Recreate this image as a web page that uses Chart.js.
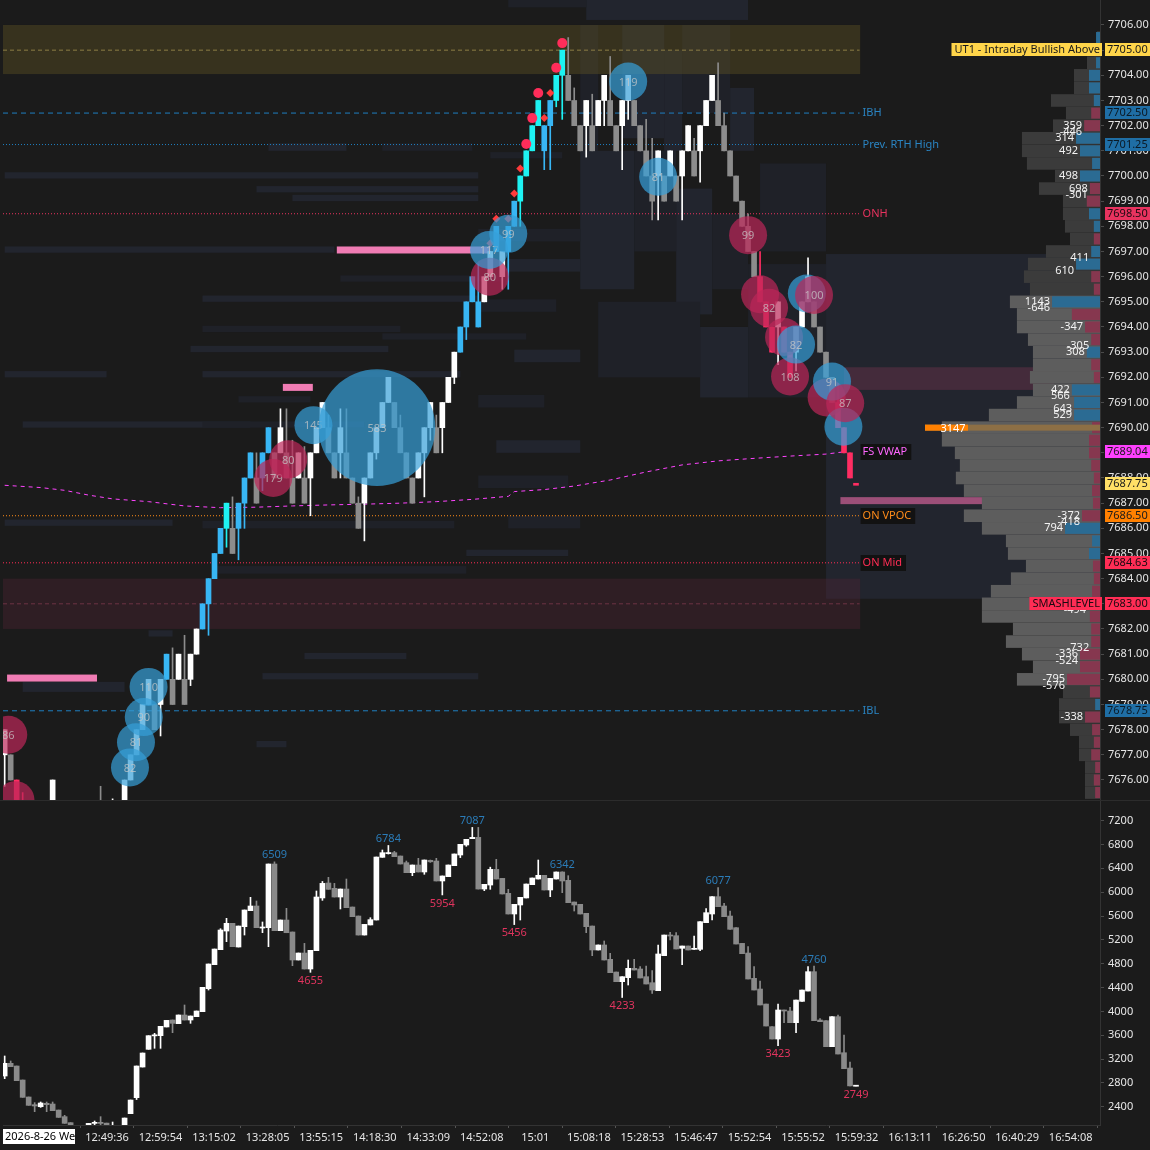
<!DOCTYPE html>
<html>
<head>
<meta charset="utf-8">
<title>ES range bars with cumulative delta</title>
<script src="https://cdn.jsdelivr.net/npm/chart.js"></script>
<style>
  html, body { margin: 0; padding: 0; background: #1b1b1b; }
  #wrap { position: relative; width: 1150px; height: 1150px; overflow: hidden; background: #1b1b1b; }
  #wrap canvas { position: absolute; left: 0; }
  #priceChart { top: 0; }
  #deltaChart { top: 800px; }
</style>
</head>
<body>
<div id="wrap">
  <canvas id="priceChart" width="1150" height="800"></canvas>
  <canvas id="deltaChart" width="1150" height="350"></canvas>
</div>
<script>
// ---- price bars (range bars, index = bar number) ----
const priceOpen = [
  7677, 7677, 7676, 7675, 7674, 7673, 7674, 7675, 7675, 7675,
  7674, 7673, 7672, 7673, 7674, 7674, 7675, 7674, 7673, 7674,
  7675, 7676, 7677, 7678, 7679, 7679, 7679, 7680, 7680, 7680,
  7680, 7680, 7681, 7682, 7683, 7684, 7685, 7686, 7686, 7686,
  7687, 7688, 7688, 7688, 7689, 7689, 7689, 7689, 7688, 7688,
  7688, 7688, 7689, 7690, 7690, 7689, 7689, 7689, 7688, 7687,
  7687, 7688, 7689, 7690, 7691, 7691, 7690, 7689, 7688, 7688,
  7689, 7690, 7690, 7690, 7691, 7692, 7693, 7694, 7695, 7695,
  7695, 7696, 7697, 7697, 7697, 7698, 7699, 7700, 7701, 7702,
  7702, 7702, 7703, 7704, 7704, 7703, 7702, 7702, 7702, 7702,
  7703, 7703, 7702, 7702, 7703, 7703, 7702, 7701, 7700, 7700,
  7700, 7700, 7700, 7700, 7701, 7701, 7701, 7702, 7703, 7703,
  7702, 7701, 7700, 7699, 7698, 7697, 7696, 7695, 7694, 7694,
  7694, 7693, 7693, 7694, 7695, 7695, 7694, 7693, 7692, 7691,
  7690, 7689, 7687.75
];
const priceClose = [
  7678, 7676, 7675, 7674, 7673, 7674, 7675, 7674, 7676, 7674,
  7673, 7672, 7673, 7674, 7673, 7675, 7674, 7673, 7674, 7675,
  7676, 7677, 7678, 7679, 7680, 7678, 7680, 7681, 7679, 7681,
  7679, 7681, 7682, 7683, 7684, 7685, 7686, 7687, 7685, 7687,
  7688, 7689, 7687, 7689, 7690, 7688, 7690, 7688, 7687, 7689,
  7687, 7689, 7690, 7691, 7689, 7688, 7690, 7688, 7687, 7686,
  7688, 7689, 7690, 7691, 7692, 7690, 7689, 7688, 7687, 7689,
  7690, 7691, 7689, 7691, 7692, 7693, 7694, 7695, 7696, 7694,
  7696, 7697, 7698, 7696, 7698, 7699, 7700, 7701, 7702, 7703,
  7701, 7703, 7704, 7705, 7703, 7702, 7701, 7703, 7701, 7703,
  7704, 7702, 7701, 7703, 7704, 7702, 7701, 7700, 7699, 7701,
  7699, 7701, 7699, 7701, 7702, 7700, 7702, 7703, 7704, 7702,
  7701, 7700, 7699, 7698, 7697, 7696, 7695, 7694, 7693, 7695,
  7693, 7692, 7694, 7695, 7696, 7694, 7693, 7692, 7691, 7690,
  7689, 7688, 7687.75
];
const priceHigh = [
  7678, 7677, 7676, 7675.5, 7674, 7674, 7675, 7675, 7676, 7675,
  7674, 7673, 7673, 7674, 7674, 7675, 7675.75, 7674, 7675.25, 7675,
  7676, 7677, 7678, 7679, 7680, 7679, 7680, 7681, 7681.25, 7681,
  7681.75, 7681, 7682, 7683, 7684, 7685, 7686, 7687, 7687.25, 7687,
  7688, 7689, 7689, 7689, 7690, 7689, 7690.75, 7690.75, 7689.5, 7689,
  7689.25, 7689, 7690, 7691, 7690.5, 7689, 7690.75, 7690.75, 7688, 7687.25,
  7688, 7689, 7690, 7691, 7692, 7691, 7690.5, 7689, 7688, 7689,
  7690, 7691, 7690.5, 7691, 7692, 7693, 7694, 7695, 7696, 7696.5,
  7696, 7697, 7698, 7697, 7698, 7699, 7700, 7701, 7702, 7703,
  7702, 7703, 7704, 7705, 7705.5, 7703.5, 7702, 7703, 7703.25, 7703,
  7704, 7704.75, 7702, 7703, 7704, 7703, 7702, 7702.25, 7701.5, 7701,
  7700, 7701, 7700, 7701, 7702, 7701.5, 7702, 7703, 7704, 7704.5,
  7702.5, 7701, 7700, 7699, 7698.5, 7697, 7697, 7695, 7694, 7695,
  7694, 7693, 7694, 7695, 7696.75, 7695, 7694, 7693, 7692, 7691.75,
  7690, 7689, 7687.75
];
const priceLow = [
  7675.75, 7676, 7674.75, 7674, 7673, 7673, 7674, 7674, 7675, 7674,
  7673, 7672, 7672, 7673, 7673, 7674, 7674, 7673, 7673, 7674,
  7675, 7676, 7677, 7678, 7679, 7678, 7677.75, 7680, 7679, 7680,
  7679, 7679.75, 7681, 7682, 7681.75, 7684, 7685, 7685.25, 7685, 7684.75,
  7686, 7688, 7687, 7687.5, 7689, 7688, 7689, 7688, 7687, 7688,
  7687, 7686.5, 7689, 7690, 7689, 7688, 7688, 7688, 7687, 7686,
  7685.5, 7688, 7688.75, 7690, 7691, 7690, 7689, 7688, 7687, 7688,
  7687.25, 7689.5, 7689, 7689, 7691, 7691.75, 7693, 7693.5, 7695, 7694,
  7695, 7696, 7697, 7695.5, 7695.5, 7698, 7698, 7700, 7701, 7702,
  7700.25, 7700.25, 7702.75, 7702.25, 7703, 7702, 7701, 7700.75, 7701, 7702,
  7702, 7702, 7701, 7700.25, 7702.25, 7702, 7701, 7700, 7698.25, 7698.25,
  7699, 7700, 7699, 7698.25, 7701, 7700, 7699.75, 7702, 7703, 7702,
  7701, 7700, 7699, 7698, 7697, 7696, 7695, 7694, 7693, 7692.5,
  7693, 7692, 7692.25, 7694, 7695, 7694, 7693, 7692, 7691, 7690,
  7689, 7688, 7687.75
];
// w white, g gray, b blue, c cyan, r red
const priceTone =
  'wgrrgwwgwg' + 'ggwwgwggww' + 'wwwwwgwbgw' + 'gwwbbbbcgb' + 'bbgbbgwggw' +
  'gwwwggwggg' + 'wwwwwggggw' + 'wwgwwwbbbb' + 'wwbwbbcccc' + 'bbccgggwgw' +
  'wggwwggggw' + 'gwgwwgwwwg' + 'ggggggrrrw' + 'rrwwwggggr' + 'rrr';

// ---- cumulative delta bars ----
const cdOpen = [
  2915, 3128, 3083, 2848, 2563, 2434, 2400, 2457, 2445, 2344,
  2233, 2132, 2000, 1950, 1980, 2126, 2132, 2125, 2060, 2080,
  2020, 2283, 2552, 3066, 3363, 3592, 3592, 3738, 3855, 3793,
  3939, 3855, 3911, 3995, 4381, 4784, 5035, 5348, 5477, 5080,
  5421, 5690, 5768, 5404, 5404, 6473, 5354, 5533, 5332, 4862,
  4979, 4711, 5018, 5903, 6154, 6065, 5919, 6053, 5751, 5600,
  5281, 5450, 5533, 6585, 6652, 6663, 6607, 6495, 6327, 6456,
  6339, 6535, 6523, 6188, 6260, 6445, 6624, 6792, 6898, 6920,
  6053, 6120, 6383, 6232, 5981, 5634, 5785, 5903, 6126, 6221,
  6283, 6037, 6221, 6339, 6199, 5835, 5796, 5645, 5432, 5030,
  5114, 4873, 4660, 4498, 4565, 4722, 4711, 4582, 4481, 4347,
  4935, 5276, 5270, 5058, 5097, 5041, 5041, 5488, 5634, 5925,
  5768, 5600, 5404, 5141, 4979, 4554, 4375, 4123, 3743, 3536,
  4023, 4006, 3810, 4168, 4341, 4666, 3855, 3844, 3407, 3911,
  3306, 3049, 2749
];
const cdClose = [
  3128, 3072, 2837, 2557, 2423, 2412, 2462, 2434, 2333, 2221,
  2121, 2000, 1950, 1980, 2120, 2132, 2125, 2060, 2080, 2030,
  2210, 2512, 3083, 3301, 3592, 3603, 3749, 3849, 3799, 3939,
  3855, 3922, 4006, 4403, 4795, 5046, 5365, 5477, 5086, 5432,
  5701, 5768, 5404, 5410, 6473, 5354, 5533, 5320, 4862, 4979,
  4711, 5024, 5919, 6148, 6048, 5919, 6053, 5740, 5589, 5281,
  5460, 5539, 6590, 6663, 6660, 6596, 6473, 6327, 6456, 6339,
  6540, 6510, 6188, 6272, 6456, 6641, 6803, 6887, 6920, 6053,
  6132, 6383, 6221, 5970, 5634, 5796, 5914, 6137, 6238, 6283,
  6037, 6232, 6339, 6188, 5824, 5785, 5634, 5421, 5030, 5114,
  4862, 4649, 4498, 4582, 4722, 4694, 4560, 4459, 4358, 4963,
  5281, 5270, 5047, 5097, 5030, 5058, 5505, 5656, 5925, 5757,
  5589, 5377, 5130, 4968, 4543, 4358, 4107, 3754, 3536, 4023,
  4006, 3810, 4190, 4358, 4666, 3844, 3827, 3407, 3911, 3284,
  3038, 2749, 2755
];
const cdHigh = [
  3251, 3167, 3083, 2848, 2563, 2468, 2479, 2479, 2479, 2344,
  2255, 2132, 2000, 1980, 2120, 2160, 2233, 2125, 2143, 2085,
  2210, 2512, 3083, 3301, 3592, 3631, 3749, 3849, 3855, 3939,
  4107, 3922, 4006, 4403, 4795, 5046, 5387, 5561, 5477, 5432,
  5701, 5914, 5852, 5500, 6473, 6509, 5533, 5729, 5332, 4979,
  5141, 5024, 6020, 6180, 6249, 6148, 6053, 6221, 5751, 5600,
  5460, 5572, 6590, 6708, 6784, 6686, 6607, 6523, 6456, 6568,
  6540, 6540, 6568, 6272, 6456, 6641, 6803, 6887, 7087, 7087,
  6132, 6420, 6551, 6232, 6048, 5796, 5914, 6137, 6238, 6540,
  6283, 6232, 6339, 6342, 6277, 5835, 5796, 5645, 5432, 5114,
  5181, 4974, 4660, 4582, 4862, 4873, 4750, 4761, 4683, 5114,
  5281, 5326, 5321, 5097, 5097, 5265, 5505, 5723, 5925, 6077,
  5813, 5684, 5404, 5141, 5086, 4750, 4509, 4123, 3743, 4123,
  4023, 4068, 4190, 4358, 4750, 4760, 3877, 3844, 3911, 3939,
  3603, 3150, 2760
];
const cdLow = [
  2870, 3072, 2837, 2557, 2423, 2317, 2389, 2317, 2333, 2221,
  2121, 2000, 1950, 1940, 1975, 2050, 2050, 2040, 2050, 2010,
  2010, 2283, 2520, 3066, 3363, 3380, 3380, 3738, 3642, 3793,
  3855, 3799, 3911, 3995, 4358, 4784, 5035, 5170, 5086, 5080,
  5281, 5690, 5404, 5321, 5086, 5354, 5354, 5320, 4767, 4862,
  4711, 4655, 5018, 5863, 6048, 5919, 5718, 5740, 5589, 5281,
  5281, 5450, 5533, 6585, 6640, 6596, 6473, 6327, 6277, 6339,
  6300, 6500, 6188, 5954, 6260, 6445, 6580, 6770, 6898, 6053,
  6025, 6048, 6221, 5970, 5634, 5456, 5533, 5903, 6126, 6221,
  6037, 5925, 6221, 5992, 5824, 5684, 5634, 5321, 4935, 5030,
  4862, 4649, 4498, 4233, 4442, 4694, 4560, 4459, 4302, 4347,
  4935, 5198, 5047, 4784, 5030, 5041, 5018, 5488, 5533, 5757,
  5589, 5377, 5130, 4968, 4543, 4358, 4107, 3754, 3536, 3423,
  3810, 3810, 3642, 4168, 4341, 3844, 3827, 3407, 3407, 3284,
  3038, 2749, 2749
];
const cdTicks = [2400, 2800, 3200, 3600, 4000, 4400, 4800, 5200, 5600, 6000, 6400, 6800, 7200];
const swingBars   = [45, 51, 64, 73, 78, 85, 93, 103, 119, 129, 135, 142];
const swingValues = [6509, 4655, 6784, 5954, 7087, 5456, 6342, 4233, 6077, 3423, 4760, 2749];
const swingKinds  = ['H', 'L', 'H', 'L', 'H', 'L', 'H', 'L', 'H', 'L', 'H', 'L'];

// ---- time axis ----
const sessionDateLabel = '2026-8-26 We';
const timeLabels = ['12:49:36', '12:59:54', '13:15:02', '13:28:05', '13:55:15', '14:18:30', '14:33:09',
  '14:52:08', '15:01', '15:08:18', '15:28:53', '15:46:47', '15:52:54', '15:55:52', '15:59:32',
  '16:13:11', '16:26:50', '16:40:29', '16:54:08'];
const timeTickBars = [17.07, 26.0, 34.93, 43.86, 52.79, 61.72, 70.65, 79.58, 88.51, 97.44,
  106.37, 115.3, 124.23, 133.16, 142.09, 151.02, 159.95, 168.88, 177.81];

// ---- reference levels ----
const levelNames  = ['UT1 - Intraday Bullish Above', 'IBH', 'Prev. RTH High', 'ONH', 'ON VPOC', 'ON Mid', 'SMASHLEVEL', 'IBL'];
const levelPrices = [7705.00, 7702.50, 7701.25, 7698.50, 7686.50, 7684.63, 7683.00, 7678.75];

const vwapBars   = [0, 6, 10, 14, 18, 24, 30, 36, 42, 48, 54, 60, 66, 72, 78, 84, 85, 90, 95, 101, 107, 113, 119, 125, 131, 137, 140];
const vwapValues = [7687.71, 7687.62, 7687.51, 7687.32, 7687.17, 7687.06, 7686.89, 7686.82, 7686.84, 7686.89,
  7686.93, 7686.96, 7687.00, 7687.06, 7687.15, 7687.27, 7687.46, 7687.54, 7687.68, 7687.92,
  7688.24, 7688.52, 7688.68, 7688.78, 7688.87, 7688.95, 7689.04];

// zones: bull box, smash box, resting sell band
const zoneBar0 = [-0.28, -0.28, 140.0];
const zoneBar1 = [142.7, 142.7, 175.0];
const zoneLow  = [7704.05, 7682.0, 7691.5];
const zoneHigh = [7706.0, 7684.0, 7692.4];
const zoneKind = ['bull', 'smash', 'band'];

// absorption prints
const absBar0  = [55.4, 46.4, 0.4, 139.4];
const absBar1  = [81.0, 51.4, 15.4, 163.5];
const absPrice = [7697.06, 7691.6, 7680.05, 7687.1];
const absKind  = ['hot', 'hot', 'hot', 'cold'];

// big trade bubbles, in drawing order ('' = number not readable)
const bubbleBar   = [0.6, 1.8, 20.9, 21.9, 23.2, 24.0, 44.8, 47.3, 51.5, 62.1, 80.9, 80.8, 84.0, 104.0,
  109.0, 124.0, 126.0, 127.5, 130.0, 131.0, 132.0, 133.8, 135.0, 137.1, 138.0, 139.9, 140.2];
const bubblePrice = [7677.8, 7675.2, 7676.5, 7677.5, 7678.5, 7679.7, 7688.0, 7688.74, 7690.1, 7690.0, 7696.0, 7697.06,
  7697.7, 7703.75, 7699.97, 7697.65, 7695.3, 7694.76, 7693.6, 7692.03, 7693.3, 7695.33, 7695.27, 7691.2,
  7691.83, 7690.04, 7690.97];
const bubbleVol   = [86, 92, 82, 81, 90, 110, 179, 80, 145, 583, 80, 117, 99, 119, 81, 99, 95, 82, 90, 108, 82,
  96, 100, 90, 91, 95, 87];
const bubbleText  = ['86', '', '82', '81', '90', '110', '179', '80', '145', '583', '80', '117', '99', '119', '81', '99',
  '', '82', '', '108', '82', '', '100', '', '91', '', '87'];
const bubbleSide  = ['s', 's', 'b', 'b', 'b', 'b', 's', 's', 'b', 'b', 's', 'b', 'b', 'b', 'b', 's', 's', 's', 's',
  's', 'b', 'b', 's', 's', 'b', 'b', 's'];

// stacked imbalance markers over the rally
const markerBar   = [81, 82, 84, 85, 86, 87, 88, 89, 90, 91, 92, 93];
const markerPrice = [7697.33, 7698.3, 7698.3, 7699.3, 7700.3, 7701.27, 7702.3, 7703.3, 7702.3, 7703.3, 7704.3, 7705.28];
const markerKind  = 'dddddoooddoo';

// liquidity heatmap cells
const heatBar0 = [
  97, 84, 96, 103, 113, 110, 121, 96, 105, 112, 118, 124, 126, 99, 116, 137,
  0, 42, 48, 0, 56, 33, 33, 63, 31, 0, 33, 44, 63, 81, 3, 33, 0, 33, 77, 35, 24, 50, 43, 3, 42,
  79, 83, 79, 85, 79, 82, 79, 84, 39
];
const heatBar1 = [
  124, 97, 99, 110, 121, 113, 125, 105, 112, 118, 124, 137, 137, 116, 124, 183,
  79, 79, 79, 55, 83, 79, 66, 87, 64, 17, 76, 57, 78, 93, 41, 60, 28, 75, 94, 77, 28, 67, 79, 20, 47,
  96, 96, 92, 96, 90, 96, 94, 96, 51
];
const heatLow = [
  7706.2, 7706.7, 7701.0, 7701.5, 7702.5, 7701.0, 7701.0, 7695.5, 7697.0, 7694.5, 7695.5, 7691.2, 7697.0, 7692.0, 7691.2, 7683.2,
  7699.9, 7699.35, 7699.0, 7696.95, 7695.8, 7695.0, 7693.8, 7693.5, 7693.0, 7692.0, 7692.0, 7701.0, 7701.0, 7700.7,
  7690.0, 7690.0, 7686.1, 7686.0, 7684.9, 7684.2, 7681.7, 7680.8, 7680.0, 7679.5, 7677.3,
  7697.4, 7696.2, 7694.6, 7692.6, 7690.8, 7689.0, 7687.6, 7686.0, 7691.0
];
const heatHigh = [
  7707.0, 7707.0, 7706.0, 7706.0, 7706.0, 7705.0, 7703.5, 7701.0, 7701.0, 7699.5, 7698.5, 7696.5, 7700.5, 7695.0, 7694.0, 7696.9,
  7700.15, 7699.6, 7699.25, 7697.2, 7696.05, 7695.25, 7694.05, 7693.75, 7693.25, 7692.25, 7692.25, 7701.3, 7701.3, 7700.95,
  7690.25, 7690.25, 7686.35, 7686.3, 7685.15, 7684.5, 7681.95, 7681.05, 7680.25, 7679.9, 7677.55,
  7697.9, 7696.7, 7695.1, 7693.1, 7691.3, 7689.5, 7688.1, 7686.5, 7691.25
];
const heatLevel = [
  2, 1, 1, 2, 1, 2, 2, 2, 1, 2, 1, 1, 1, 1, 2, 2,
  2, 2, 2, 2, 1, 2, 1, 1, 2, 2, 2, 2, 1, 1, 2, 1, 2, 1, 2, 1, 2, 2, 2, 2, 2,
  1, 2, 1, 2, 1, 2, 1, 1, 1
];

// session volume profile (0.5 rows) and delta per row
const profilePrices = [
  7705.5, 7705.0, 7704.5, 7704.0, 7703.5, 7703.0, 7702.5, 7702.0, 7701.5, 7701.0,
  7700.5, 7700.0, 7699.5, 7699.0, 7698.5, 7698.0, 7697.5, 7697.0, 7696.5, 7696.0,
  7695.5, 7695.0, 7694.5, 7694.0, 7693.5, 7693.0, 7692.5, 7692.0, 7691.5, 7691.0,
  7690.5, 7690.0, 7689.5, 7689.0, 7688.5, 7688.0, 7687.5, 7687.0, 7686.5, 7686.0,
  7685.5, 7685.0, 7684.5, 7684.0, 7683.5, 7683.0, 7682.5, 7682.0, 7681.5, 7681.0,
  7680.5, 7680.0, 7679.5, 7679.0, 7678.5, 7678.0, 7677.5, 7677.0, 7676.5, 7676.0, 7675.5
];
const profileVolumes = [
  54, 108, 234, 468, 468, 882, 612, 846, 1404, 1404,
  1314, 810, 1098, 666, 666, 630, 540, 972, 1296, 1368,
  1260, 1620, 1494, 1494, 1296, 1206, 1206, 1260, 1206, 1494,
  1998, 2844, 2844, 2610, 2520, 2592, 2448, 2124, 2448, 2124,
  1692, 1656, 1332, 1602, 1962, 2124, 2124, 1566, 1692, 1404,
  1206, 1494, 666, 738, 738, 540, 378, 378, 270, 270, 270
];
const profileDelta = [
  90, 90, 90, 250, 250, 140, -200, -360, 545, 455,
  180, 455, -230, -300, 250, 140, -140, 200, 545, -200,
  -140, 1090, -640, -340, -200, 300, -200, -140, 640, 590,
  590, -180, -250, -250, -200, -140, -180, -160, -410, 795,
  180, 250, -160, -140, -180, -270, -230, -200, -200, -455,
  -455, -750, -230, 110, -340, -180, -140, -200, -110, -140, -110
];
const valueAreaHigh = 7695.25;
const valueAreaLow  = 7679.75;
const pocPrice  = 7690.0;
const pocVolume = 3147;
const deltaTextPrice = [7702.0, 7701.75, 7701.5, 7701.0, 7700.0, 7699.5, 7699.25, 7696.75, 7696.25, 7695.0, 7694.75,
  7694.0, 7693.25, 7693.0, 7691.5, 7691.25, 7690.75, 7690.5, 7686.5, 7686.25, 7686.0, 7682.75, 7681.25, 7681.0,
  7680.75, 7680.0, 7679.75, 7678.5];
const deltaTextValue = [359, -446, 314, 492, 498, 698, -301, 411, 610, 1143, -646, -347, -305, 308, 422, 566, 643, 529,
  -372, -418, 794, -494, -732, -336, -524, -795, -576, -338];

(function(root){

  const FONT = '"Noto Sans", "DejaVu Sans", sans-serif';
  const X_MIN = -0.28, X_MAX = 182.7;
  const TONES = {w: '#ffffff', g: '#8c8c8c', b: '#38b6f4', c: '#1ef2f2', r: '#ff2d62'};
  const PROFILE_PX = 175 / pocVolume;
  const DELTA_PX = 0.044;
  const lastBar = priceClose.length - 1;

  const LEVEL_STYLE = {
    'UT1 - Intraday Bullish Above': {line: '#8c7d45', dash: [4, 3], tag: 'left', bg: '#ffd54a', fg: '#1a1a1a'},
    'IBH':            {line: '#1f7fc0', dash: [5, 4], text: '#2a84c2', bg: '#1f6ea5', fg: '#0b1a26'},
    'Prev. RTH High': {line: '#1f7fc0', dash: [1, 2], text: '#2a84c2', bg: '#1f6ea5', fg: '#0b1a26'},
    'ONH':            {line: '#e8335f', dash: [1, 2], text: '#e8335f', bg: '#e8335f', fg: '#1a0a10'},
    'ON VPOC':        {line: '#ff8c1a', dash: [1, 2], text: '#ff8c1a', box: true, bg: '#ff8000', fg: '#1a1a1a'},
    'ON Mid':         {line: '#ff2d55', dash: [1, 2], text: '#ff2d55', box: true, bg: '#ff2d55', fg: '#1a0a10'},
    'SMASHLEVEL':     {line: '#6e3344', dash: [4, 3], tag: 'left', bg: '#ff2d55', fg: '#1a0a10'},
    'IBL':            {line: '#1f7fc0', dash: [5, 4], text: '#2a84c2', bg: '#1f6ea5', fg: '#0b1a26'}
  };

  const candleSets = (opens, closes, highs, lows, colorOf, minBody) => {
    let bodies = [], wicks = [], colors = [];
    opens.forEach((o, i) => {
      let lo = Math.min(o, closes[i]), hi = Math.max(o, closes[i]);
      if (hi - lo < minBody) {
        const m = (hi + lo) / 2;
        lo = m - minBody / 2;
        hi = m + minBody / 2;
      }
      bodies.push({x: i, y: [lo, hi]});
      wicks.push({x: i, y: [lows[i], highs[i]]});
      colors.push(colorOf(i));
    });
    return [
      {type: 'bar', data: bodies, backgroundColor: colors, barThickness: 5, grouped: false, borderWidth: 0, borderSkipped: false, order: 1},
      {type: 'bar', data: wicks, backgroundColor: colors, barThickness: 1, grouped: false, borderWidth: 0, borderSkipped: false, order: 2}
    ];
  };

  const axisBox = (ctx, y, text, bg, fg) => {
    ctx.fillStyle = bg;
    ctx.fillRect(1105, Math.round(y) - 7, 45, 13);
    ctx.fillStyle = fg;
    ctx.font = '11px ' + FONT;
    ctx.textAlign = 'left';
    ctx.textBaseline = 'middle';
    ctx.fillText(text, 1107, Math.round(y));
  };

  const clipArea = (ctx, area) => {
    ctx.beginPath();
    ctx.rect(area.left, area.top, area.right - area.left, area.bottom - area.top);
    ctx.clip();
  };

  const priceUnderlay = {
    id: 'priceUnderlay',
    beforeDatasetsDraw(chart) {
      const ctx = chart.ctx, xs = chart.scales.x, ys = chart.scales.y, area = chart.chartArea;
      ctx.save();
      clipArea(ctx, area);

      heatBar0.forEach((b0, i) => {
        const x0 = xs.getPixelForValue(b0), x1 = xs.getPixelForValue(heatBar1[i]);
        const y0 = ys.getPixelForValue(heatHigh[i]), y1 = ys.getPixelForValue(heatLow[i]);
        ctx.fillStyle = heatLevel[i] > 1 ? '#22252e' : '#1f2128';
        ctx.fillRect(x0, y0, x1 - x0, y1 - y0);
      });

      zoneBar0.forEach((b0, i) => {
        const x0 = xs.getPixelForValue(b0), x1 = xs.getPixelForValue(zoneBar1[i]);
        const y0 = ys.getPixelForValue(zoneHigh[i]), y1 = ys.getPixelForValue(zoneLow[i]);
        ctx.fillStyle = zoneKind[i] === 'bull' ? 'rgba(96,84,36,0.42)'
                      : zoneKind[i] === 'smash' ? 'rgba(84,36,52,0.36)' : 'rgba(110,50,75,0.45)';
        ctx.fillRect(x0, y0, x1 - x0, y1 - y0);
      });

      absBar0.forEach((b0, i) => {
        const x0 = xs.getPixelForValue(b0), x1 = xs.getPixelForValue(absBar1[i]);
        const y = ys.getPixelForValue(absPrice[i]);
        ctx.fillStyle = absKind[i] === 'hot' ? '#f07cb4' : '#9c4f78';
        ctx.fillRect(x0, y - 3.5, x1 - x0, 7);
      });

      // volume profile on the right edge
      profilePrices.forEach((p, i) => {
        const y0 = ys.getPixelForValue(p + 0.25), y1 = ys.getPixelForValue(p - 0.25);
        const w = profileVolumes[i] * PROFILE_PX;
        ctx.fillStyle = (p <= valueAreaHigh && p >= valueAreaLow) ? '#5d5d5d' : '#3b3b3b';
        ctx.fillRect(area.right - w, y0, w, y1 - y0);
      });
      profilePrices.forEach((p, i) => {
        const y0 = ys.getPixelForValue(p + 0.22), y1 = ys.getPixelForValue(p - 0.22);
        const d = profileDelta[i], w = Math.abs(d) * DELTA_PX;
        ctx.fillStyle = d > 0 ? '#2b6b93' : '#86374f';
        ctx.fillRect(area.right - w, y0, w, y1 - y0);
      });
      const py = ys.getPixelForValue(pocPrice), pw = pocVolume * PROFILE_PX;
      ctx.fillStyle = '#8d6f45';
      ctx.fillRect(area.right - pw, py - 3, pw, 6);
      ctx.fillStyle = '#ff8000';
      ctx.fillRect(area.right - pw, py - 3, 43, 6);
      ctx.fillStyle = '#ffffff';
      ctx.font = '11px ' + FONT;
      ctx.textAlign = 'center';
      ctx.textBaseline = 'middle';
      ctx.fillText(String(pocVolume), area.right - pw + 28, py + 1);
      ctx.restore();
    }
  };

  const priceOverlay = {
    id: 'priceOverlay',
    afterDatasetsDraw(chart) {
      const ctx = chart.ctx, xs = chart.scales.x, ys = chart.scales.y, area = chart.chartArea;
      ctx.save();
      clipArea(ctx, area);

      markerBar.forEach((b, i) => {
        const x = xs.getPixelForValue(b), y = ys.getPixelForValue(markerPrice[i]);
        ctx.beginPath();
        if (markerKind[i] === 'o') {
          ctx.fillStyle = '#ff2d5a';
          ctx.arc(x, y, 5, 0, Math.PI * 2);
        } else {
          ctx.fillStyle = '#ff3b3b';
          ctx.moveTo(x, y - 4); ctx.lineTo(x + 4, y); ctx.lineTo(x, y + 4); ctx.lineTo(x - 4, y);
          ctx.closePath();
        }
        ctx.fill();
      });

      bubbleBar.forEach((b, i) => {
        const x = xs.getPixelForValue(b), y = ys.getPixelForValue(bubblePrice[i]);
        const r = Math.max(19, bubbleVol[i] / 10);
        ctx.beginPath();
        ctx.arc(x, y, r, 0, Math.PI * 2);
        ctx.fillStyle = bubbleSide[i] === 'b' ? 'rgba(54,160,217,0.7)' : 'rgba(188,38,88,0.7)';
        ctx.fill();
        if (bubbleText[i]) {
          ctx.fillStyle = 'rgba(200,200,200,0.75)';
          ctx.font = '11px ' + FONT;
          ctx.textAlign = 'center';
          ctx.textBaseline = 'middle';
          ctx.fillText(bubbleText[i], x, y + 1);
        }
      });

      // delta numbers beside the profile
      ctx.font = '11px ' + FONT;
      ctx.textAlign = 'right';
      ctx.textBaseline = 'middle';
      ctx.fillStyle = '#f2f2f2';
      deltaTextPrice.forEach((p, i) => {
        const row = profilePrices.findIndex(q => Math.abs(q - Math.round(p * 2) / 2) < 1e-6);
        const edge = area.right - Math.abs(profileDelta[row]) * DELTA_PX - 2;
        ctx.fillText(String(deltaTextValue[i]), edge, ys.getPixelForValue(p));
      });
      ctx.restore();

      // level names at the end of each line
      const xEnd = xs.getPixelForValue(lastBar + 0.6);
      ctx.save();
      ctx.font = '11px ' + FONT;
      ctx.textBaseline = 'middle';
      levelNames.forEach((name, i) => {
        const st = LEVEL_STYLE[name], y = Math.round(ys.getPixelForValue(levelPrices[i]));
        if (st.tag === 'left') {
          const w = ctx.measureText(name).width + 5;
          ctx.fillStyle = st.bg;
          ctx.fillRect(1102 - w, y - 7, w, 13);
          ctx.fillStyle = st.fg;
          ctx.textAlign = 'right';
          ctx.fillText(name, 1100, y);
        } else {
          ctx.textAlign = 'left';
          if (st.box) {
            ctx.fillStyle = '#121212';
            ctx.fillRect(xEnd + 1, y - 8, ctx.measureText(name).width + 6, 16);
          }
          ctx.fillStyle = st.text;
          ctx.fillText(name, xEnd + 3, y);
        }
      });
      const vy = Math.round(ys.getPixelForValue(vwapValues[vwapValues.length - 1]));
      ctx.textAlign = 'left';
      ctx.fillStyle = '#121212';
      ctx.fillRect(xEnd + 1, vy - 8, ctx.measureText('FS VWAP').width + 6, 16);
      ctx.fillStyle = '#ff66ff';
      ctx.fillText('FS VWAP', xEnd + 3, vy);

      // price tags on the axis
      levelNames.forEach((name, i) => {
        const st = LEVEL_STYLE[name];
        axisBox(ctx, ys.getPixelForValue(levelPrices[i]), levelPrices[i].toFixed(2), st.bg, st.fg);
      });
      axisBox(ctx, vy, vwapValues[vwapValues.length - 1].toFixed(2), '#ff40ff', '#1a1a1a');
      axisBox(ctx, ys.getPixelForValue(priceClose[lastBar]), priceClose[lastBar].toFixed(2), '#ffe066', '#1a1a1a');
      ctx.restore();
    }
  };

  const levelSets = levelNames.map((name, i) => ({
    type: 'line',
    data: [{x: X_MIN, y: levelPrices[i]}, {x: lastBar + 0.6, y: levelPrices[i]}],
    borderColor: LEVEL_STYLE[name].line,
    borderDash: LEVEL_STYLE[name].dash,
    borderWidth: 1,
    pointRadius: 0,
    order: 4
  }));

  const vwapSet = {
    type: 'line',
    data: vwapBars.map((b, i) => ({x: b, y: vwapValues[i]})),
    borderColor: '#ff44ff',
    borderDash: [4, 4],
    borderWidth: 1,
    pointRadius: 0,
    tension: 0,
    order: 3
  };

  const rightAxis = (min, max, tickValues, fmt) => ({
    position: 'right', min: min, max: max,
    afterBuildTicks: (s) => { s.ticks = tickValues.map(v => ({value: v})); },
    grid: {display: true, drawOnChartArea: false, drawTicks: true, tickLength: 4, color: '#4a4a4a'},
    border: {display: true, color: '#333333'},
    ticks: {color: '#e6e6e6', padding: 4, font: {family: FONT, size: 11}, callback: fmt},
    afterFit: (s) => { s.width = 50; s.paddingTop = 0; s.paddingBottom = 0; }
  });

  const baseOptions = {
    responsive: false, animation: false, devicePixelRatio: 1,
    layout: {padding: {left: 3, right: 0, top: 0, bottom: 0}},
    plugins: {legend: {display: false}, tooltip: {enabled: false}}
  };

  // whole-point price ticks from 7676 to 7706
  const priceTicks = [];
  for (let p = 7676; p <= 7706; p++) priceTicks.push(p);

  new Chart(document.getElementById('priceChart'), {
    type: 'bar',
    data: {
      datasets: [
        ...candleSets(priceOpen, priceClose, priceHigh, priceLow, i => TONES[priceTone.charAt(i)], 0.08),
        vwapSet,
        ...levelSets
      ]
    },
    options: Object.assign({}, baseOptions, {
      scales: {
        x: {type: 'linear', min: X_MIN, max: X_MAX, offset: false, display: false},
        y: rightAxis(7675.205, 7706.993, priceTicks, v => Number(v).toFixed(2))
      }
    }),
    plugins: [priceUnderlay, priceOverlay]
  });

  const deltaOverlay = {
    id: 'deltaOverlay',
    afterDatasetsDraw(chart) {
      const ctx = chart.ctx, xs = chart.scales.x, ys = chart.scales.y;
      ctx.save();
      ctx.font = '11px ' + FONT;
      ctx.textAlign = 'center';
      swingBars.forEach((b, i) => {
        const x = xs.getPixelForValue(b), y = ys.getPixelForValue(swingValues[i]);
        if (swingKinds[i] === 'H') {
          ctx.fillStyle = '#2b7cb8';
          ctx.textBaseline = 'bottom';
          ctx.fillText(String(swingValues[i]), x, y - 1);
        } else {
          ctx.fillStyle = '#e0345e';
          ctx.textBaseline = 'top';
          ctx.fillText(String(swingValues[i]), x, y + 3);
        }
      });
      ctx.restore();
    },
    afterDraw(chart) {
      const ctx = chart.ctx, area = chart.chartArea;
      ctx.save();
      ctx.fillStyle = '#2c2c2c';
      ctx.fillRect(0, 0, chart.width, 1);
      ctx.fillStyle = '#ffffff';
      ctx.fillRect(3, area.bottom + 4, 72, 15);
      ctx.beginPath();
      ctx.rect(3, area.bottom + 4, 72, 15);
      ctx.clip();
      ctx.fillStyle = '#000000';
      ctx.font = '11px ' + FONT;
      ctx.textAlign = 'left';
      ctx.textBaseline = 'middle';
      ctx.fillText(sessionDateLabel, 5, area.bottom + 12);
      ctx.restore();
    }
  };

  new Chart(document.getElementById('deltaChart'), {
    type: 'bar',
    data: {
      datasets: candleSets(cdOpen, cdClose, cdHigh, cdLow, i => (cdClose[i] >= cdOpen[i] ? '#ffffff' : '#8a8a8a'), 18)
    },
    options: Object.assign({}, baseOptions, {
      scales: {
        x: {
          type: 'linear', min: X_MIN, max: X_MAX, offset: false,
          afterBuildTicks: (s) => { s.ticks = timeTickBars.map(v => ({value: v})); },
          grid: {display: true, drawOnChartArea: false, drawTicks: true, tickLength: 3, color: '#555555'},
          border: {display: true, color: '#333333'},
          ticks: {autoSkip: false, maxRotation: 0, minRotation: 0, color: '#e6e6e6', padding: 3,
                  font: {family: FONT, size: 11}, callback: (v, i) => timeLabels[i]},
          afterFit: (s) => { s.height = 25; s.paddingLeft = 0; s.paddingRight = 0; }
        },
        y: rightAxis(2093, 7547, cdTicks, v => String(v))
      }
    }),
    plugins: [deltaOverlay]
  });

})(window);
</script>
</body>
</html>
